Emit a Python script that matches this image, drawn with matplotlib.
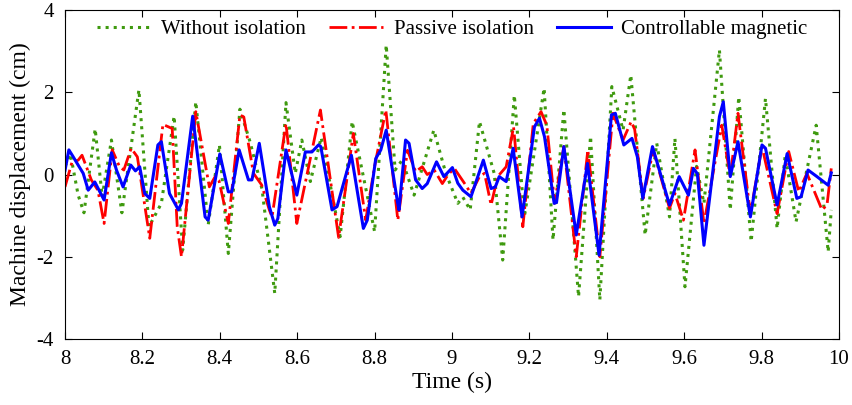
import matplotlib.pyplot as plt

plt.rcParams['font.family'] = ['Liberation Serif', 'DejaVu Serif']
plt.rcParams['axes.unicode_minus'] = False

# without isolation (green dotted)
green_t = [8.000, 8.014, 8.034, 8.049, 8.078, 8.096, 8.120, 8.147, 8.191, 8.217,
           8.249, 8.282, 8.304, 8.338, 8.370, 8.399, 8.422, 8.452, 8.478, 8.509,
           8.542, 8.571, 8.595, 8.612, 8.634, 8.662, 8.711, 8.742, 8.800, 8.830,
           8.853, 8.871, 8.902, 8.953, 8.984, 9.015, 9.028, 9.047, 9.071, 9.109,
           9.131, 9.161, 9.187, 9.238, 9.261, 9.289, 9.327, 9.358, 9.382, 9.413,
           9.442, 9.462, 9.499, 9.529, 9.562, 9.576, 9.602, 9.632, 9.651, 9.691,
           9.719, 9.741, 9.773, 9.810, 9.840, 9.861, 9.889, 9.941, 9.972, 9.980]
green_v = [0.20, 0.50, -0.50, -0.93, 1.11, -0.54, 0.84, -0.93, 2.06, -1.27,
           -0.70, 1.42, -1.84, 1.77, -1.23, 0.72, -1.92, 1.59, 0.80, -0.35,
           -2.89, 1.75, 0.03, 0.84, -0.17, 0.90, -1.51, 1.29, -1.39, 3.15,
           0.11, 0.35, -0.50, 1.08, 0.03, -0.70, -0.55, -0.86, 1.29, 0.03,
           -2.08, 1.93, -1.03, 2.10, -1.59, 1.58, -2.97, 0.93, -3.05, 2.14,
           1.08, 2.42, -1.47, 0.76, -1.03, 0.88, -2.73, 0.20, -0.70, 3.03,
           -0.86, 1.89, -1.63, 1.85, -1.31, 0.47, -1.15, 1.20, -1.88, -0.86]

# passive isolation (red dash-dot)
red_t = [8.000, 8.018, 8.034, 8.044, 8.068, 8.085, 8.101, 8.122, 8.141, 8.152,
         8.171, 8.187, 8.219, 8.253, 8.277, 8.290, 8.301, 8.338, 8.373, 8.388,
         8.398, 8.422, 8.452, 8.462, 8.487, 8.508, 8.528, 8.535, 8.571, 8.599,
         8.660, 8.707, 8.745, 8.777, 8.800, 8.829, 8.860, 8.885, 8.906, 8.923,
         8.936, 8.954, 8.975, 8.990, 9.006, 9.032, 9.049, 9.071, 9.084, 9.101,
         9.118, 9.140, 9.159, 9.183, 9.210, 9.230, 9.245, 9.265, 9.289, 9.321,
         9.351, 9.382, 9.416, 9.442, 9.463, 9.472, 9.494, 9.520, 9.562, 9.576,
         9.598, 9.628, 9.651, 9.697, 9.719, 9.739, 9.771, 9.801, 9.840, 9.870,
         9.896, 9.917, 9.956, 9.969, 9.980]
red_v = [-0.30, 0.30, 0.35, 0.47, -0.13, -0.38, -1.19, 0.60, 0.19, 0.11,
         0.64, 0.43, -1.55, 1.22, 1.12, -1.27, -2.00, 1.53, -0.30, -0.05,
         -0.15, -1.19, 1.45, 1.40, 0.03, -0.25, -0.86, -1.03, 1.24, -1.19,
         1.57, -1.53, 1.00, -1.11, 0.20, 1.57, -1.11, 0.59, 0.07, 0.19,
         0.00, 0.11, -0.22, 0.00, 0.15, -0.21, -0.46, -0.05, 0.03, -0.74,
         -0.05, 0.19, 1.16, -1.27, 1.24, 1.53, 1.20, -0.70, 0.68, -2.00,
         0.60, -2.00, 1.49, 0.84, 1.29, 1.10, -0.58, 0.60, -0.82, -0.46,
         -1.11, 0.60, -1.19, 1.20, -0.05, 1.49, -0.95, 0.68, -0.95, 0.56,
         -0.42, 0.03, -0.86, -0.74, 0.15]

# controllable magnetic (blue solid)
blue_t = [8.000, 8.010, 8.020, 8.034, 8.047, 8.060, 8.077, 8.101, 8.120, 8.133,
          8.150, 8.170, 8.182, 8.193, 8.206, 8.219, 8.240, 8.249, 8.270, 8.293,
          8.301, 8.330, 8.362, 8.370, 8.400, 8.422, 8.431, 8.450, 8.474, 8.483,
          8.502, 8.528, 8.542, 8.550, 8.571, 8.599, 8.621, 8.638, 8.655, 8.661,
          8.690, 8.703, 8.740, 8.771, 8.781, 8.803, 8.816, 8.830, 8.859, 8.863,
          8.880, 8.889, 8.906, 8.923, 8.936, 8.960, 8.979, 9.001, 9.015, 9.028,
          9.049, 9.081, 9.101, 9.112, 9.122, 9.140, 9.158, 9.181, 9.213, 9.226,
          9.239, 9.264, 9.270, 9.289, 9.321, 9.350, 9.380, 9.412, 9.422, 9.444,
          9.465, 9.479, 9.493, 9.518, 9.562, 9.587, 9.611, 9.624, 9.634, 9.651,
          9.691, 9.701, 9.719, 9.739, 9.771, 9.801, 9.810, 9.840, 9.866, 9.891,
          9.902, 9.920, 9.943, 9.972, 9.980]
blue_v = [0.10, 0.60, 0.45, 0.23, 0.03, -0.38, -0.18, -0.62, 0.53, 0.11,
          -0.30, 0.23, 0.09, 0.19, -0.46, -0.58, 0.72, 0.80, -0.46, -0.86,
          -0.70, 1.42, -1.03, -1.11, 0.50, -0.42, -0.42, 0.60, -0.13, -0.13,
          0.76, -0.78, -1.23, -1.07, 0.60, -0.50, 0.55, 0.55, 0.72, 0.68,
          -0.86, -0.78, 0.47, -1.31, -1.11, 0.39, 0.60, 1.08, -0.66, -0.86,
          0.84, 0.76, -0.13, -0.34, -0.22, 0.31, -0.05, 0.17, -0.21, -0.38,
          -0.54, 0.35, -0.34, -0.30, -0.05, -0.17, 0.64, -1.03, 1.16, 1.37,
          0.92, -0.70, -0.68, 0.68, -1.47, 0.27, -1.96, 1.45, 1.49, 0.72,
          0.88, 0.43, -0.58, 0.68, -0.74, -0.05, -0.50, 0.15, 0.02, -1.72,
          1.41, 1.77, -0.05, 0.80, -1.03, 0.72, 0.64, -0.74, 0.51, -0.58,
          -0.54, 0.11, -0.05, -0.26, 0.04]

fig = plt.figure(figsize=(8.53, 4.05), dpi=100)
ax = fig.add_axes([0.0762, 0.163, 0.9074, 0.812])

ax.plot(green_t, green_v, color='#3f9a0f', linestyle=':', linewidth=2.2, label='Without isolation')
ax.plot(red_t, red_v, color='#ff0000', linestyle='-.', linewidth=2, label='Passive isolation')
ax.plot(blue_t, blue_v, color='#0000ff', linestyle='-', linewidth=2.2, label='Controllable magnetic')

ax.set_xlim(8, 10)
ax.set_ylim(-4, 4)
ax.set_xticks([8, 8.2, 8.4, 8.6, 8.8, 9, 9.2, 9.4, 9.6, 9.8, 10])
ax.set_xticklabels(['8', '8.2', '8.4', '8.6', '8.8', '9', '9.2', '9.4', '9.6', '9.8', '10'])
ax.set_yticks([-4, -2, 0, 2, 4])
ax.tick_params(direction='in', top=True, right=True, length=5, labelsize=15)
ax.tick_params(axis='x', pad=8)
ax.tick_params(axis='y', pad=8)
ax.set_xlabel('Time (s)', fontsize=17, labelpad=2)
ax.set_ylabel('Machine displacement (cm)', fontsize=17, labelpad=4)

ax.legend(loc='upper center', ncol=3, frameon=False, fontsize=15,
          handlelength=2.6, columnspacing=1.1, borderaxespad=0.05, handletextpad=0.5)

plt.savefig('out.png', dpi=100)
